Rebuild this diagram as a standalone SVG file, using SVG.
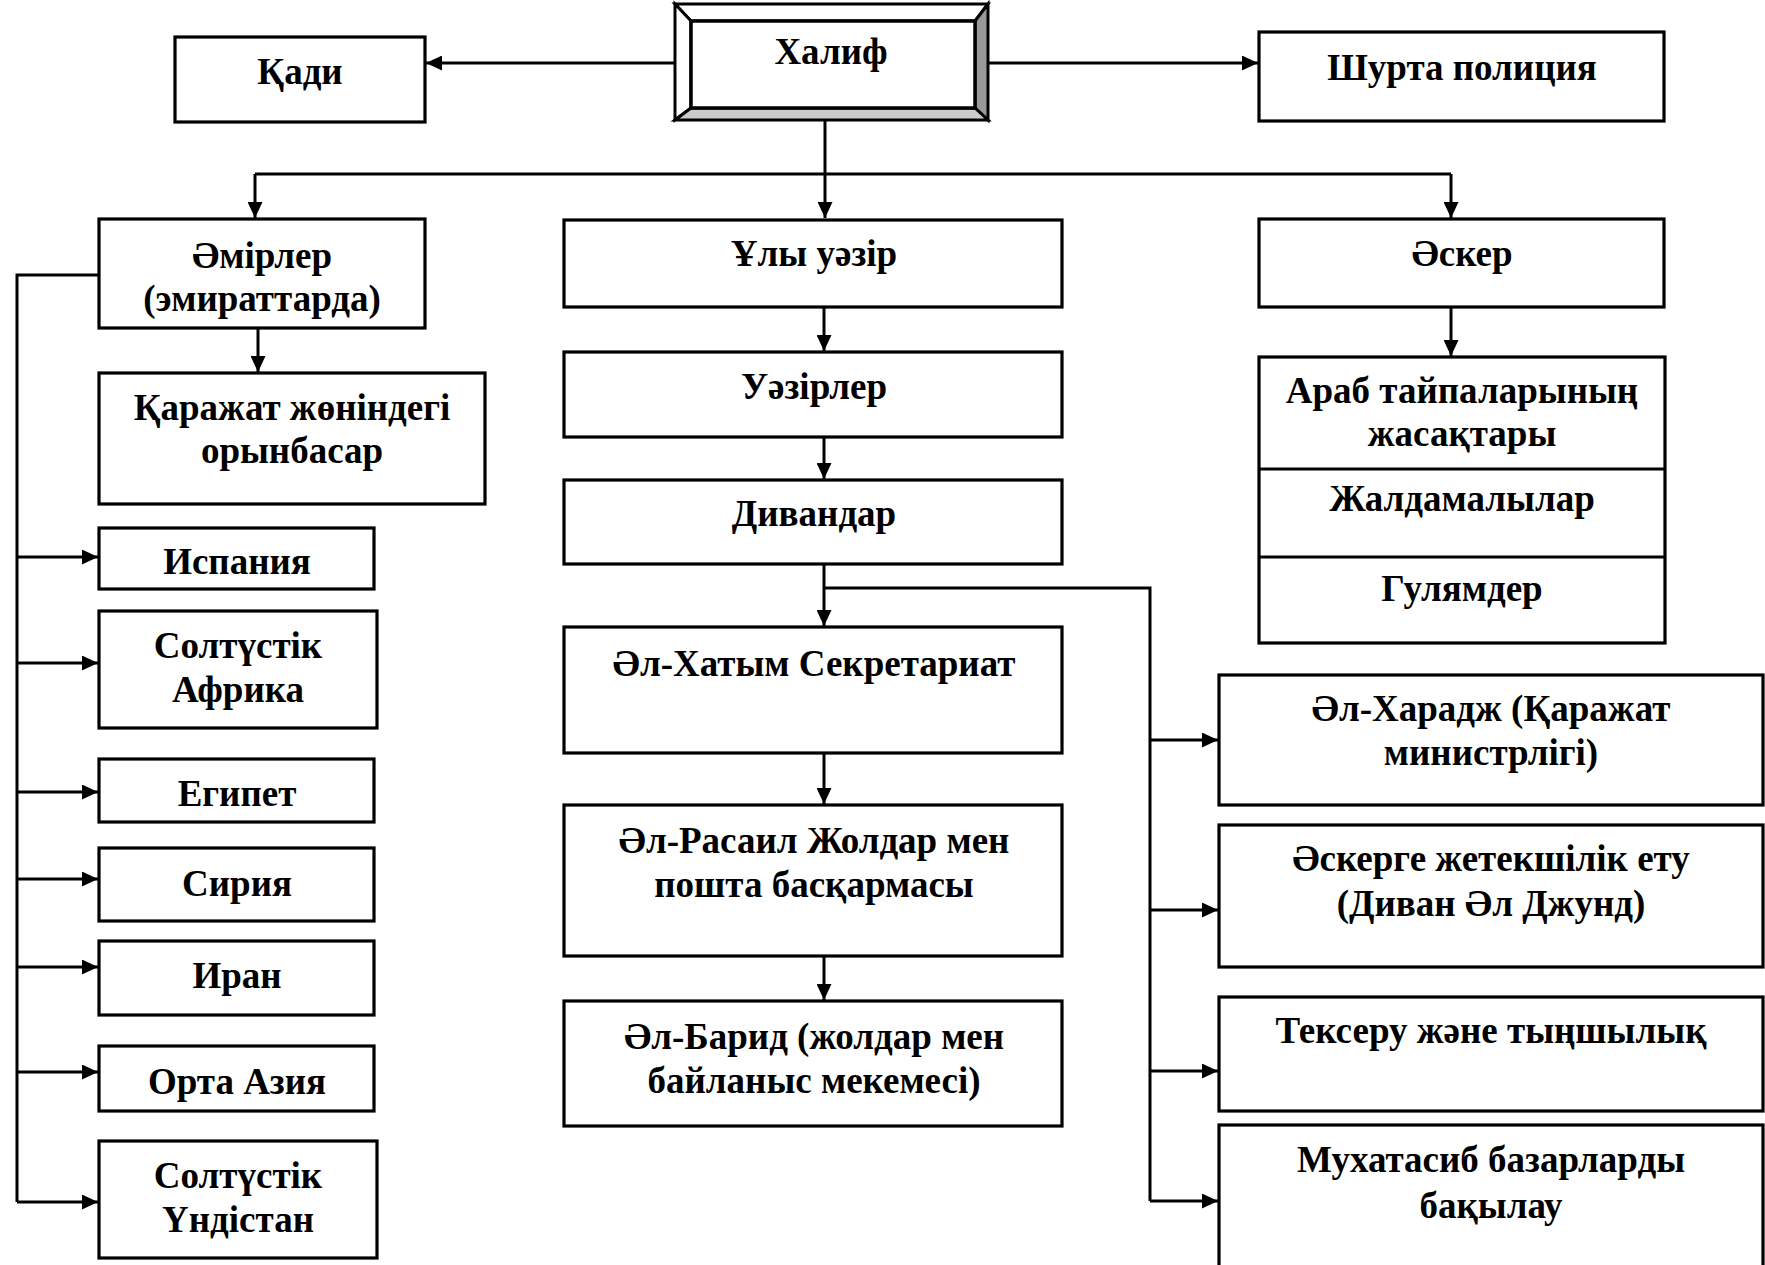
<svg xmlns="http://www.w3.org/2000/svg" width="1765" height="1265" viewBox="0 0 1765 1265">
<style>
.box{fill:#fff;stroke:#000;stroke-width:3.2}
.t{font-family:"Liberation Serif","Times New Roman",serif;font-weight:bold;font-size:37px;text-anchor:middle;fill:#000}
.c{stroke:#000;stroke-width:3;fill:none}
.a{marker-end:url(#arr)}
</style>
<defs>
<marker id="arr" markerUnits="userSpaceOnUse" markerWidth="16" markerHeight="15" refX="16" refY="7.5" orient="auto">
<path d="M0,0 L16,7.5 L0,15 z" fill="#000"/>
</marker>
</defs>
<rect width="1765" height="1265" fill="#fff"/>

<g id="connectors">
<line class="c a" x1="675" y1="63" x2="426" y2="63"/>
<line class="c a" x1="988" y1="63" x2="1258" y2="63"/>
<line class="c" x1="825" y1="120" x2="825" y2="174"/>
<line class="c" x1="255" y1="174" x2="1451" y2="174"/>
<line class="c a" x1="255" y1="174" x2="255" y2="218"/>
<line class="c a" x1="825" y1="174" x2="825" y2="218"/>
<line class="c a" x1="1451" y1="174" x2="1451" y2="218"/>
<line class="c a" x1="258" y1="328" x2="258" y2="372"/>
<polyline class="c" points="99,275 17,275 17,1202"/>
<line class="c a" x1="17" y1="557" x2="98" y2="557"/>
<line class="c a" x1="17" y1="663" x2="98" y2="663"/>
<line class="c a" x1="17" y1="792" x2="98" y2="792"/>
<line class="c a" x1="17" y1="879" x2="98" y2="879"/>
<line class="c a" x1="17" y1="967" x2="98" y2="967"/>
<line class="c a" x1="17" y1="1072" x2="98" y2="1072"/>
<line class="c a" x1="17" y1="1202" x2="98" y2="1202"/>
<line class="c a" x1="824" y1="307" x2="824" y2="351"/>
<line class="c a" x1="824" y1="437" x2="824" y2="479"/>
<line class="c a" x1="824" y1="564" x2="824" y2="626"/>
<line class="c a" x1="824" y1="753" x2="824" y2="804"/>
<line class="c a" x1="824" y1="956" x2="824" y2="1000"/>
<line class="c a" x1="1451" y1="307" x2="1451" y2="356"/>
<polyline class="c" points="824,588 1150,588 1150,1201"/>
<line class="c a" x1="1150" y1="740" x2="1218" y2="740"/>
<line class="c a" x1="1150" y1="910" x2="1218" y2="910"/>
<line class="c a" x1="1150" y1="1071" x2="1218" y2="1071"/>
<line class="c a" x1="1150" y1="1201" x2="1218" y2="1201"/>
</g>

<g id="khalif">
<polygon points="675,4 988,4 975,21 691,21" fill="#fff" stroke="#000" stroke-width="3"/>
<polygon points="675,4 691,21 691,108 675,120" fill="#fff" stroke="#000" stroke-width="3"/>
<polygon points="988,4 988,120 975,108 975,21" fill="#999" stroke="#000" stroke-width="3"/>
<polygon points="675,120 988,120 975,108 691,108" fill="#ccc" stroke="#000" stroke-width="3"/>
<rect x="691" y="21" width="284" height="87" fill="#fff" stroke="#000" stroke-width="3.5"/>
<text class="t" x="831" y="64">Халиф</text>
</g>

<g id="qadi">
<rect class="box" x="175" y="37" width="250" height="85"/>
<text class="t" x="300" y="84">Қади</text>
</g>

<g id="shurta">
<rect class="box" x="1259" y="32" width="405" height="89"/>
<text class="t" x="1462" y="80">Шурта полиция</text>
</g>

<g id="amirler">
<rect class="box" x="99" y="219" width="326" height="109"/>
<text class="t" x="262" y="268">Әмірлер</text>
<text class="t" x="262" y="311">(эмираттарда)</text>
</g>

<g id="qarajat">
<rect class="box" x="99" y="373" width="386" height="131"/>
<text class="t" x="292" y="420">Қаражат жөніндегі</text>
<text class="t" x="292" y="463">орынбасар</text>
</g>

<g id="ispania">
<rect class="box" x="99" y="528" width="275" height="61"/>
<text class="t" x="237" y="574">Испания</text>
</g>

<g id="afrika">
<rect class="box" x="99" y="611" width="278" height="117"/>
<text class="t" x="238" y="658">Солтүстік</text>
<text class="t" x="238" y="702">Африка</text>
</g>

<g id="egipet">
<rect class="box" x="99" y="759" width="275" height="63"/>
<text class="t" x="237" y="806">Египет</text>
</g>

<g id="siria">
<rect class="box" x="99" y="848" width="275" height="73"/>
<text class="t" x="237" y="896">Сирия</text>
</g>

<g id="iran">
<rect class="box" x="99" y="941" width="275" height="74"/>
<text class="t" x="237" y="988">Иран</text>
</g>

<g id="orta-azia">
<rect class="box" x="99" y="1046" width="275" height="65"/>
<text class="t" x="237" y="1094">Орта Азия</text>
</g>

<g id="undistan">
<rect class="box" x="99" y="1141" width="278" height="117"/>
<text class="t" x="238" y="1188">Солтүстік</text>
<text class="t" x="238" y="1232">Үндістан</text>
</g>

<g id="uly-uazir">
<rect class="box" x="564" y="220" width="498" height="87"/>
<text class="t" x="814" y="266">Ұлы уәзір</text>
</g>

<g id="uazirler">
<rect class="box" x="564" y="352" width="498" height="85"/>
<text class="t" x="814" y="399">Уәзірлер</text>
</g>

<g id="divandar">
<rect class="box" x="564" y="480" width="498" height="84"/>
<text class="t" x="814" y="526">Дивандар</text>
</g>

<g id="khatym">
<rect class="box" x="564" y="627" width="498" height="126"/>
<text class="t" x="814" y="676">Әл-Хатым Секретариат</text>
</g>

<g id="rasail">
<rect class="box" x="564" y="805" width="498" height="151"/>
<text class="t" x="814" y="853">Әл-Расаил Жолдар мен</text>
<text class="t" x="814" y="897">пошта басқармасы</text>
</g>

<g id="barid">
<rect class="box" x="564" y="1001" width="498" height="125"/>
<text class="t" x="814" y="1049">Әл-Барид (жолдар мен</text>
<text class="t" x="814" y="1093">байланыс мекемесі)</text>
</g>

<g id="asker">
<rect class="box" x="1259" y="219" width="405" height="88"/>
<text class="t" x="1462" y="266">Әскер</text>
</g>

<g id="army-units">
<rect class="box" x="1259" y="357" width="406" height="286"/>
<line x1="1259" y1="469" x2="1665" y2="469" stroke="#000" stroke-width="3.2"/>
<line x1="1259" y1="557" x2="1665" y2="557" stroke="#000" stroke-width="3.2"/>
<text class="t" x="1462" y="403">Араб тайпаларының</text>
<text class="t" x="1462" y="446">жасақтары</text>
<text class="t" x="1462" y="511">Жалдамалылар</text>
<text class="t" x="1462" y="601">Гулямдер</text>
</g>

<g id="kharaj">
<rect class="box" x="1219" y="675" width="544" height="130"/>
<text class="t" x="1491" y="721">Әл-Харадж (Қаражат</text>
<text class="t" x="1491" y="765">министрлігі)</text>
</g>

<g id="jund">
<rect class="box" x="1219" y="825" width="544" height="142"/>
<text class="t" x="1491" y="871">Әскерге жетекшілік ету</text>
<text class="t" x="1491" y="916">(Диван Әл Джунд)</text>
</g>

<g id="tekseru">
<rect class="box" x="1219" y="997" width="544" height="114"/>
<text class="t" x="1491" y="1043">Тексеру және тыңшылық</text>
</g>

<g id="mukhtasib">
<rect class="box" x="1219" y="1125" width="544" height="150"/>
<text class="t" x="1491" y="1172">Мухатасиб базарларды</text>
<text class="t" x="1491" y="1218">бақылау</text>
</g>
</svg>
